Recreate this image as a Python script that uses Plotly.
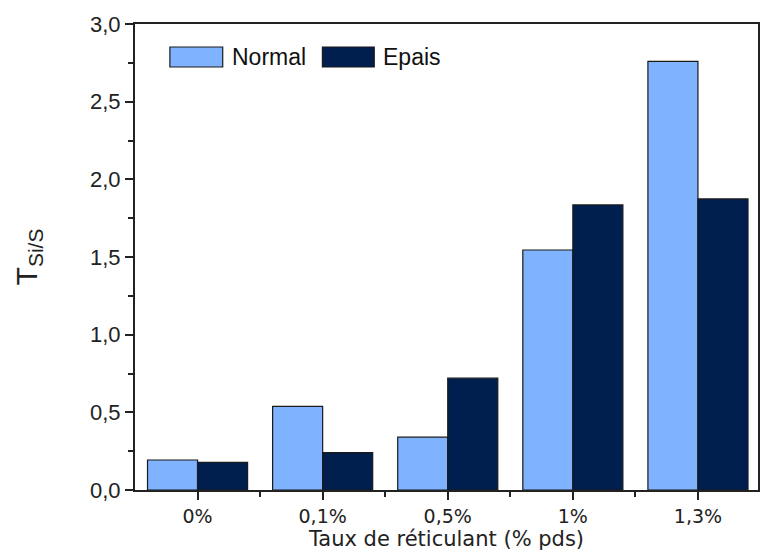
import plotly.graph_objects as go

categories = ["0%", "0,1%", "0,5%", "1%", "1,3%"]
normal = [0.193, 0.539, 0.34, 1.545, 2.76]
epais = [0.178, 0.24, 0.72, 1.835, 1.874]
series_names = ["Normal", "Epais"]

pos = list(range(len(categories)))
col_normal = "#80B3FF"
col_epais = "#001E4E"
edge = dict(color="#1a1a1a", width=1.2)

# plot area in page pixels: x 135..760, y 24..490
L, T, W, H = 135, 24, 760, 553
PW, PH = W - L, 490 - T

fig = go.Figure()
fig.add_trace(go.Bar(x=pos, y=normal, name=series_names[0], marker=dict(color=col_normal, line=edge),
                     showlegend=False))
fig.add_trace(go.Bar(x=pos, y=epais, name=series_names[1], marker=dict(color=col_epais, line=edge),
                     showlegend=False))

# hand-drawn legend with wide swatches
leg = [(170, 223, col_normal, series_names[0]), (323, 375, col_epais, series_names[1])]
for x0, x1, c, name in leg:
    fig.add_shape(type="rect", xref="paper", yref="paper",
                  x0=(x0 - L) / PW, x1=(x1 - L) / PW,
                  y0=(490 - 67) / PH, y1=(490 - 47) / PH,
                  fillcolor=c, line=edge)
    fig.add_annotation(xref="paper", yref="paper", x=(x1 + 7 - L) / PW, y=(490 - 57) / PH,
                       text=name, showarrow=False, xanchor="left", yanchor="middle",
                       font=dict(family="Liberation Sans, Arial", size=23, color="#111"))

fig.update_layout(
    width=W, height=H,
    margin=dict(l=L, r=0, t=T, b=H - T - PH),
    paper_bgcolor="white", plot_bgcolor="white",
    separators=",.",
    barmode="group", bargap=0.2, bargroupgap=0,
    xaxis=dict(
        range=[-0.5, 4.48], tickvals=pos, ticktext=categories,
        showline=True, linecolor="#222", linewidth=2, mirror=True,
        ticks="outside", ticklen=8, tickwidth=2, tickcolor="#222",
        minor=dict(tickvals=[0.5, 1.5, 2.5, 3.5], ticks="outside", ticklen=5, tickwidth=2, tickcolor="#222"),
        showgrid=False, zeroline=False,
        tickfont=dict(family="DejaVu Sans, Verdana", size=19, color="#222"),
        title=dict(text="Taux de réticulant (% pds)", standoff=4,
                   font=dict(family="DejaVu Sans, Verdana", size=21, color="#222")),
    ),
    yaxis=dict(
        range=[0, 3.0], dtick=0.5, tickformat=".1f",
        showline=True, linecolor="#222", linewidth=2, mirror=True,
        ticks="outside", ticklen=8, tickwidth=2, tickcolor="#222",
        minor=dict(dtick=0.25, ticks="outside", ticklen=5, tickwidth=2, tickcolor="#222"),
        showgrid=False, zeroline=False,
        tickfont=dict(family="Liberation Sans, Arial", size=22, color="#222"),
        title=dict(text="T<sub>Si/S</sub>", standoff=44,
                   font=dict(family="Liberation Sans, Arial", size=30, color="#222")),
    ),
)

# drop the default 8px body margin so the figure fills the window exactly
fig.write_html("out.html", config={"displayModeBar": False},
               post_script="document.body.style.margin='0';document.body.style.overflow='hidden';")
